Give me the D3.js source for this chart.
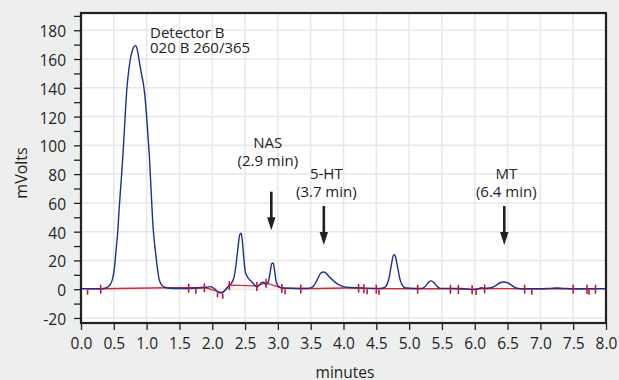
<!DOCTYPE html>
<html>
<head>
<meta charset="utf-8">
<script src="https://cdn.jsdelivr.net/npm/d3@7"></script>
<style>
    body { margin: 0; background: #edefee; }
    text { font-family: "Open Sans", sans-serif; fill: #231f20; }
</style>
</head>
<body>
<div id="chart"></div>
<script>
// detector B trace: time (minutes) / signal (mV)
var traceTime = [0.00, 0.30, 0.38, 0.44, 0.48, 0.51, 0.53, 0.56, 0.58, 0.61, 0.64, 0.67, 0.70, 0.73, 0.76, 0.80, 0.83, 0.86, 0.89, 0.92,
    0.95, 0.97, 1.00, 1.02, 1.04, 1.06, 1.08, 1.10, 1.12, 1.14, 1.16, 1.19, 1.22, 1.26, 1.32, 1.40, 1.60, 1.80, 1.90, 1.97,
    2.03, 2.08, 2.13, 2.18, 2.24, 2.29, 2.33, 2.36, 2.39, 2.42, 2.44, 2.46, 2.48, 2.50, 2.53, 2.56, 2.60, 2.64, 2.68, 2.71,
    2.75, 2.78, 2.82, 2.85, 2.88, 2.91, 2.93, 2.95, 2.97, 3.00, 3.04, 3.10, 3.30, 3.45, 3.52, 3.57, 3.62, 3.66, 3.70, 3.74,
    3.78, 3.83, 3.88, 3.94, 4.00, 4.10, 4.30, 4.55, 4.62, 4.66, 4.70, 4.73, 4.76, 4.78, 4.80, 4.83, 4.86, 4.90, 4.95, 5.10,
    5.20, 5.25, 5.30, 5.34, 5.38, 5.43, 5.48, 5.80, 5.90, 5.98, 6.05, 6.10, 6.15, 6.25, 6.32, 6.38, 6.44, 6.50, 6.56, 6.62,
    6.70, 7.00, 7.15, 7.25, 7.35, 7.50, 8.00];
var traceValue = [0.3, 0.3, 0.8, 3, 7, 15, 25, 40, 55, 74, 94, 118, 140, 153, 162, 168, 169.5, 166, 158, 150,
    143, 136, 120, 107, 94, 76, 58, 42, 32, 24, 16, 7, 3.5, 1.8, 0.8, 0.5, 0.5, 0.8, 1.2, 1.8,
    0.5, -1.6, -2.6, -1.5, 1.5, 4, 8, 16, 28, 38, 39, 33, 22, 13, 9, 7, 5.2, 3.2, 1.5, 2.5,
    4.5, 4.8, 3.2, 4.5, 11, 18, 18, 13, 6, 2.5, 1.2, 0.8, 0.5, 0.5, 1.2, 4, 8.5, 11.5, 12, 11,
    8.8, 6.5, 4.6, 2.8, 1.8, 1.2, 0.8, 0.5, 1, 3, 9, 17, 23.5, 24, 21, 14, 7, 2.5, 0.8, 0.5,
    0.6, 2, 5, 5.8, 4.5, 1.8, 0.6, 0.5, 0, -0.3, 0.3, 1, 0.5, 1, 2.5, 4.3, 5, 4.5, 2.8, 1,
    0.3, 0.3, 0.6, 0.8, 0.6, 0.3, 0.3];

// red integration baseline
var baseTime = [0.10, 0.30, 1.30, 1.64, 1.75, 1.88, 2.08, 2.16, 2.26, 2.68, 2.82, 3.06, 3.11, 3.35, 3.60, 4.23, 4.31, 4.50, 5.13, 5.63, 5.96, 6.15, 6.76, 7.50, 7.84];
var baseValue = [0.3, 0.3, 1.0, 1.0, 1.0, 1.3, -1.5, -2.5, 2.8, 2.3, 4.4, 0.8, 0.6, 0.5, 0.5, 1.0, 0.7, 0.4, 0.3, 0.3, 0.0, 0.5, 0.3, 0.3, 0.3];

// integration marks, 1 = long mark across the line, 0 = short mark below it
var markTime = [0.10, 0.30, 1.64, 1.75, 1.88, 2.08, 2.16, 2.26, 2.68, 2.82, 3.06, 3.11, 3.35, 4.23, 4.31, 4.36, 4.50, 4.54, 5.13,
    5.63, 5.75, 5.96, 6.02, 6.15, 6.76, 6.87, 7.50, 7.71, 7.74, 7.84];
var markLong = [0, 1, 1, 0, 1, 0, 0, 1, 1, 1, 1, 0, 1, 1, 1, 0, 1, 0, 1,
    1, 1, 1, 0, 1, 1, 0, 1, 1, 0, 1];

// peak annotations
var peakName = ["NAS", "5-HT", "MT"];
var peakLabel = ["(2.9 min)", "(3.7 min)", "(6.4 min)"];
var peakTime = [2.9, 3.7, 6.45];
var labelShift = [-3.5, 2.5, 2];
var labelValue = [98, 76.5, 76.5];
var arrowTop = [67.8, 57.8, 57.8];
var arrowTip = [41, 30.7, 30.7];

var detectorText = ["Detector B", "020 B 260/365"];

// axis ticks
var xTicks = [0, 0.5, 1, 1.5, 2, 2.5, 3, 3.5, 4, 4.5, 5, 5.5, 6, 6.5, 7, 7.5, 8];
var yTicks = [-20, 0, 20, 40, 60, 80, 100, 120, 140, 160, 180];
var yMinor = [-20, -10, 0, 10, 20, 30, 40, 50, 60, 70, 80, 90, 100, 110, 120, 130, 140, 150, 160, 170, 180, 190];

var width = 619;
var height = 380;

var svg = d3.select("#chart")
    .append("svg")
    .attr("width", width)
    .attr("height", height);

var x = d3.scaleLinear().domain([0, 8]).range([81, 606]);
var y = d3.scaleLinear().domain([-23.5, 192]).range([323, 13]);

//plot background
svg.append("rect")
    .attr("x", x(0))
    .attr("y", y(192))
    .attr("width", x(8) - x(0))
    .attr("height", y(-23.5) - y(192))
    .attr("fill", "white");

//grid
svg.append("g")
    .selectAll("line")
    .data(xTicks.slice(1, -1))
    .enter()
    .append("line")
    .attr("x1", function(d) { return x(d); })
    .attr("x2", function(d) { return x(d); })
    .attr("y1", y(192))
    .attr("y2", y(-23.5))
    .attr("stroke", "#e6e7e7")
    .attr("stroke-width", 1.5);

svg.append("g")
    .selectAll("line")
    .data(yTicks)
    .enter()
    .append("line")
    .attr("x1", x(0))
    .attr("x2", x(8))
    .attr("y1", function(d) { return y(d); })
    .attr("y2", function(d) { return y(d); })
    .attr("stroke", "#e6e7e7")
    .attr("stroke-width", 1.5);

//red baseline
var baseLine = d3.line()
    .x(function(d, i) { return x(baseTime[i]); })
    .y(function(d) { return y(d); });

svg.append("path")
    .attr("d", baseLine(baseValue))
    .attr("fill", "none")
    .attr("stroke", "#d8253a")
    .attr("stroke-width", 1.4);

//blue trace
var traceLine = d3.line()
    .x(function(d, i) { return x(traceTime[i]); })
    .y(function(d) { return y(d); })
    .curve(d3.curveMonotoneX);

svg.append("path")
    .attr("d", traceLine(traceValue))
    .attr("fill", "none")
    .attr("stroke", "#1c2f8e")
    .attr("stroke-width", 1.4);

//marks sit on the baseline
var baseAt = d3.scaleLinear().domain(baseTime).range(baseValue).clamp(true);

svg.append("g")
    .selectAll("line")
    .data(markTime)
    .enter()
    .append("line")
    .attr("x1", function(d) { return x(d); })
    .attr("x2", function(d) { return x(d); })
    .attr("y1", function(d, i) { return y(baseAt(d)) + (markLong[i] ? -4 : 1); })
    .attr("y2", function(d, i) { return y(baseAt(d)) + (markLong[i] ? 5 : 6); })
    .attr("stroke", "#d0112b")
    .attr("stroke-width", 1.6);

//frame
svg.append("rect")
    .attr("x", x(0))
    .attr("y", y(192))
    .attr("width", x(8) - x(0))
    .attr("height", y(-23.5) - y(192))
    .attr("fill", "none")
    .attr("stroke", "#231f20")
    .attr("stroke-width", 2.2);

//axes
var xAxis = svg.append("g")
    .attr("transform", "translate(0," + y(-23.5) + ")")
    .call(d3.axisBottom(x).tickValues(xTicks).tickFormat(d3.format(".1f")).tickSize(7).tickPadding(8));

var yAxis = svg.append("g")
    .attr("transform", "translate(" + x(0) + ",0)")
    .call(d3.axisLeft(y).tickValues(yMinor)
        .tickFormat(function(d) { return d % 20 === 0 ? d : ""; })
        .tickSize(7).tickPadding(8));

svg.selectAll(".domain").remove();
svg.selectAll(".tick line").attr("stroke", "#231f20").attr("stroke-width", 1.3);
svg.selectAll(".tick text")
    .attr("font-family", "'Open Sans', sans-serif")
    .attr("font-size", "15.5px")
    .attr("fill", "#231f20");
yAxis.selectAll(".tick text").attr("dy", "0.42em");

//axis titles
svg.append("text")
    .text("mVolts")
    .attr("transform", "translate(27,173) rotate(-90)")
    .attr("text-anchor", "middle")
    .attr("font-size", "16px");

svg.append("text")
    .text("minutes")
    .attr("x", 345)
    .attr("y", 378)
    .attr("text-anchor", "middle")
    .attr("font-size", "15.5px");

//detector label
svg.append("g")
    .selectAll("text")
    .data(detectorText)
    .enter()
    .append("text")
    .text(function(d) { return d; })
    .attr("x", 150)
    .attr("y", function(d, i) { return 37.5 + i * 15.8; })
    .attr("font-size", "15px");

//peak labels and arrows
for (var i = 0; i < peakName.length; i++) {
    var px = x(peakTime[i]);
    var ly = y(labelValue[i]);
    svg.append("text")
        .text(peakName[i])
        .attr("x", px + labelShift[i])
        .attr("y", ly)
        .attr("text-anchor", "middle")
        .attr("font-size", "15px");
    svg.append("text")
        .text(peakLabel[i])
        .attr("x", px + labelShift[i])
        .attr("y", ly + 18)
        .attr("text-anchor", "middle")
        .attr("font-size", "15px");

    var arrowStart = y(arrowTop[i]);
    var arrowEnd = y(arrowTip[i]);
    svg.append("line")
        .attr("x1", px)
        .attr("x2", px)
        .attr("y1", arrowStart)
        .attr("y2", arrowEnd - 10)
        .attr("stroke", "#231f20")
        .attr("stroke-width", 2.6);
    svg.append("path")
        .attr("d", "M" + (px - 4.2) + "," + (arrowEnd - 13) + "L" + (px + 4.2) + "," + (arrowEnd - 13) + "L" + px + "," + arrowEnd + "Z")
        .attr("fill", "#231f20");
}
</script>
</body>
</html>
